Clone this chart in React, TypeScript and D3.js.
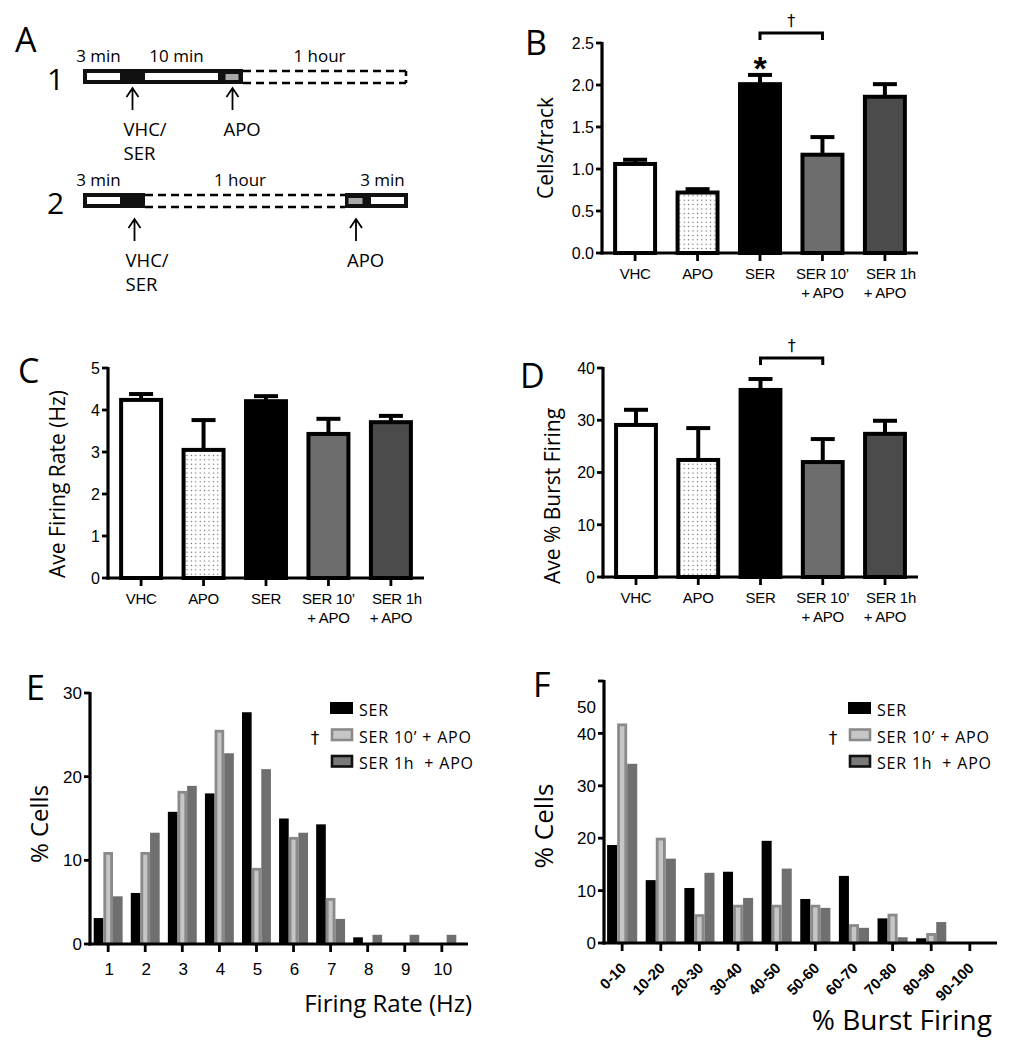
import React from 'react';
import * as d3 from 'd3';

// ---------- DATA ----------
const groups = ['VHC', 'APO', 'SER', 'SER 10’ + APO', 'SER 1h + APO'];
const groupLabelLines = [['VHC'], ['APO'], ['SER'], ['SER 10’', '+ APO'], ['SER 1h', '+ APO']];

const cellsPerTrackMean = [1.06, 0.72, 2.01, 1.17, 1.86];
const cellsPerTrackSem = [0.05, 0.04, 0.11, 0.21, 0.15];
const cellsTicks = [0, 0.5, 1.0, 1.5, 2.0, 2.5];

const firingRateMean = [4.24, 3.05, 4.21, 3.43, 3.71];
const firingRateSem = [0.14, 0.71, 0.12, 0.36, 0.15];
const firingTicks = [0, 1, 2, 3, 4, 5];

const burstMean = [29.1, 22.4, 35.8, 22.0, 27.4];
const burstSem = [2.9, 6.1, 2.1, 4.4, 2.5];
const burstTicks = [0, 10, 20, 30, 40];

const rateBins = ['1', '2', '3', '4', '5', '6', '7', '8', '9', '10'];
const rateSER = [3.1, 6.1, 15.8, 18.0, 27.7, 15.0, 14.3, 0.8, 0, 0];
const rateSER10 = [11.0, 11.0, 18.3, 25.6, 9.1, 12.8, 5.5, 0, 0, 0];
const rateSER1h = [5.7, 13.3, 18.9, 22.8, 20.9, 13.3, 3.0, 1.1, 1.1, 1.1];
const rateTicks = [0, 10, 20, 30];
const rateTickLabels = ['0', '10', '20', '30'];

const burstBins = ['0-10', '10-20', '20-30', '30-40', '40-50', '50-60', '60-70', '70-80', '80-90', '90-100'];
const burstSER = [18.7, 12.0, 10.5, 13.6, 19.5, 8.4, 12.8, 4.7, 0.9, 0];
const burstSER10 = [41.9, 20.1, 5.5, 7.3, 7.3, 7.3, 3.6, 5.6, 1.9, 0];
const burstSER1h = [34.2, 16.1, 13.4, 8.6, 14.2, 6.7, 2.9, 1.1, 4.0, 0];
const burstHistTicks = [0, 10, 20, 30, 40, 50];
const burstHistTickLabels = ['0', '10', '20', '30', '40', '50'];
// the original figure prints the "50" label lower than its tick
const burstHistLabelAt = [0, 10, 20, 30, 40, 45];

const legendNames = ['SER', 'SER 10’ + APO', 'SER 1h  + APO'];

// protocol schematic (drawn lengths, schematic units)
const protocol1Phases = [
  { kind: 'base', len: 41, label: '3 min' },
  { kind: 'drug', len: 17 },
  { kind: 'base', len: 81, label: '10 min' },
  { kind: 'apo', len: 21 },
  { kind: 'record', len: 163, label: '1 hour' },
];
const protocol2Phases = [
  { kind: 'base', len: 41, label: '3 min' },
  { kind: 'drug', len: 21 },
  { kind: 'record', len: 200, label: '1 hour' },
  { kind: 'apo', len: 22 },
  { kind: 'base', len: 41, label: '3 min' },
];
const injectionLabels: Record<string, string[]> = { drug: ['VHC/', 'SER'], apo: ['APO'] };

// ---------- STYLE ----------
const SANS = "'Open Sans', 'Noto Sans', sans-serif";
const ARIAL = "'Liberation Sans', Arial, Helvetica, sans-serif";
const DAGGER = "'DejaVu Sans', 'Liberation Sans', sans-serif";
const groupFills = ['#ffffff', 'url(#dots)', '#000000', '#6d6d6d', '#4b4b4b'];

function PanelA() {
  const rows = [
    { id: '1', phases: protocol1Phases, top: 69, arrowGap: 4 },
    { id: '2', phases: protocol2Phases, top: 193, arrowGap: 11 },
  ];
  const x = d3.scaleLinear().domain([0, 325]).range([83, 408]);
  const h = 15;
  return (
    <g>
      <text x={15} y={52} fontFamily={SANS} fontSize={34}>A</text>
      {rows.map((row) => {
        const ends = d3.cumsum(row.phases.map((p) => p.len));
        const items = row.phases.map((p, i) => ({ ...p, s: i === 0 ? 0 : ends[i - 1], e: ends[i] }));
        const bottom = row.top + h;
        const lastIdx = items.length - 1;
        return (
          <g key={row.id}>
            <text x={47} y={row.top + 21} fontFamily={SANS} fontSize={30}>{row.id}</text>
            {items.map((p, i) => {
              const x0 = x(p.s), x1 = x(p.e);
              const parts: any[] = [];
              if (p.kind === 'record') {
                parts.push(
                  <line key="t" x1={x0} x2={x1} y1={row.top + 2} y2={row.top + 2} stroke="#000" strokeWidth={2.6} strokeDasharray="8 5" />,
                  <line key="b" x1={x0} x2={x1} y1={bottom - 1} y2={bottom - 1} stroke="#000" strokeWidth={2.6} strokeDasharray="8 5" />
                );
                if (i === lastIdx) parts.push(<line key="r" x1={x1} x2={x1} y1={row.top + 2} y2={bottom - 1} stroke="#000" strokeWidth={2.6} strokeDasharray="5 4" />);
              } else {
                parts.push(<rect key="o" x={x0} y={row.top} width={x1 - x0} height={h} fill="#111" />);
                if (p.kind === 'base') parts.push(<rect key="w" x={x0 + 4} y={row.top + 4} width={x1 - x0 - 8} height={7} fill="#fff" />);
                if (p.kind === 'apo') parts.push(<rect key="g" x={x0 + 3.5} y={row.top + 5} width={x1 - x0 - 8} height={6} fill="#a9a9a9" />);
              }
              if (p.label) {
                parts.push(
                  <text key="l" x={(x0 + x1) / 2 - 5} y={row.top - 7} textAnchor="middle" fontFamily={SANS} fontSize={17}>{p.label}</text>
                );
              }
              if (injectionLabels[p.kind]) {
                const cx = (x0 + x1) / 2;
                const a0 = bottom + row.arrowGap;
                const a1 = a0 + 22;
                parts.push(
                  <path key="a" d={`M${cx},${a1} L${cx},${a0} M${cx - 6},${a0 + 9} L${cx},${a0} L${cx + 6},${a0 + 9}`} fill="none" stroke="#000" strokeWidth={1.8} />
                );
                injectionLabels[p.kind].forEach((t, k) => {
                  parts.push(
                    <text key={'il' + k} x={cx - 9} y={a1 + 26 + k * 24} fontFamily={SANS} fontSize={18.5}>{t}</text>
                  );
                });
              }
              return <g key={i}>{parts}</g>;
            })}
          </g>
        );
      })}
    </g>
  );
}

function BarPanel(props: any) {
  const { axisX, axisEnd, y0, yTop, yMax, ticks, fmt, means, sems, yLabel, yLabelX, yLabelY, letter, letterX, letterY, star, bracket } = props;
  const x = d3.scaleBand().domain(groups).range([axisX, axisEnd]).paddingInner(0.36).paddingOuter(0.21);
  const y = d3.scaleLinear().domain([0, yMax]).range([y0, yTop]);
  const bw = x.bandwidth();
  const cx = (g: string) => (x(g) as number) + bw / 2;
  return (
    <g>
      <text x={letterX} y={letterY} fontFamily={SANS} fontSize={34}>{letter}</text>
      {groups.map((g, i) => {
        const top = y(means[i]);
        const et = y(means[i] + sems[i]);
        return (
          <g key={g}>
            <line x1={cx(g)} x2={cx(g)} y1={top} y2={et} stroke="#000" strokeWidth={4} />
            <line x1={cx(g) - 12} x2={cx(g) + 12} y1={et} y2={et} stroke="#000" strokeWidth={4} />
            <rect x={x(g)} y={top} width={bw} height={y0 - top} fill={groupFills[i]} stroke="#000" strokeWidth={4} />
          </g>
        );
      })}
      {/* axes */}
      <line x1={axisX} x2={axisX} y1={y0 + 1.5} y2={y(yMax) - 1} stroke="#000" strokeWidth={3.2} />
      <line x1={axisX - 1.5} x2={axisEnd} y1={y0} y2={y0} stroke="#000" strokeWidth={3.2} />
      {ticks.map((t: number) => (
        <g key={t}>
          <line x1={axisX - 6} x2={axisX} y1={y(t)} y2={y(t)} stroke="#000" strokeWidth={2.8} />
          <text x={axisX - 8} y={y(t)} dy="0.36em" textAnchor="end" fontFamily={ARIAL} fontSize={16}>{fmt(t)}</text>
        </g>
      ))}
      {groups.map((g, i) => (
        <g key={'xl' + g}>
          <line x1={cx(g)} x2={cx(g)} y1={y0} y2={y0 + 8} stroke="#000" strokeWidth={2.8} />
          {groupLabelLines[i].map((t, k) => (
            <text key={k} x={cx(g) + (i === 4 && k === 0 ? 6 : 0)} y={y0 + 26 + k * 19} textAnchor="middle" fontFamily={ARIAL} fontSize={15} letterSpacing={-0.3}>{t}</text>
          ))}
        </g>
      ))}
      <text transform={`translate(${yLabelX},${yLabelY}) rotate(-90)`} textAnchor="middle" fontFamily={SANS} fontSize={21}>{yLabel}</text>
      {star !== undefined && (
        <text x={cx(groups[star])} y={y(means[star] + sems[star]) + 5} textAnchor="middle" fontFamily={ARIAL} fontWeight="bold" fontSize={34}>*</text>
      )}
      {bracket && (() => {
        const xa = cx(groups[bracket[0]]);
        const xb = cx(groups[bracket[1]]);
        const by = y(yMax) - 10;
        return (
          <g>
            <path d={`M${xa},${by + 7} L${xa},${by} L${xb},${by} L${xb},${by + 7}`} fill="none" stroke="#000" strokeWidth={3} />
            <text x={(xa + xb) / 2} y={by - 7} textAnchor="middle" fontFamily={DAGGER} fill="#000" fontSize={16}>†</text>
          </g>
        );
      })()}
    </g>
  );
}

function HistPanel(props: any) {
  const { cats, series, axisX, axisEnd, bandEnd, y0, yTop, yMax, ticks, tickLabels, labelAt, rotate, xLabel, xLabelX, xLabelY, xLabelSize, yLabelX, yLabelY, yLabelSize, letter, letterX, letterY, legendX, po, pi } = props;
  const x0 = d3.scaleBand().domain(cats).range([axisX, bandEnd]).paddingInner(pi).paddingOuter(po);
  const x1 = d3.scaleBand().domain(['a', 'b', 'c']).range([0, x0.bandwidth()]);
  const y = d3.scaleLinear().domain([0, yMax]).range([y0, yTop]);
  const w = x1.bandwidth();
  const keys = ['a', 'b', 'c'];
  const legendRows = [702, 728.5, 755];
  return (
    <g>
      <text x={letterX} y={letterY} fontFamily={SANS} fontSize={34}>{letter}</text>
      {cats.map((c: string, i: number) => (
        <g key={c} transform={`translate(${x0(c)},0)`}>
          {series.map((s: number[], k: number) => {
            const v = s[i];
            if (v <= 0) return null;
            const top = y(v);
            const bx = x1(keys[k]) as number;
            if (k === 0) return <rect key={k} x={bx} y={top} width={w} height={y0 - top} fill="#000" />;
            if (k === 1) return <rect key={k} x={bx + 1.4} y={top + 1.4} width={w - 2.8} height={y0 - top - 1.4} fill="#c6c6c6" stroke="#8a8a8a" strokeWidth={2.8} />;
            return <rect key={k} x={bx} y={top} width={w} height={y0 - top} fill="#6f6f6f" />;
          })}
        </g>
      ))}
      <line x1={axisX} x2={axisX} y1={y0 + 1.5} y2={y(yMax) - 1} stroke="#000" strokeWidth={3.2} />
      <line x1={axisX - 1.5} x2={axisEnd} y1={y0} y2={y0} stroke="#000" strokeWidth={3.2} />
      {ticks.map((t: number, i: number) => (
        <g key={t}>
          <line x1={axisX - 6} x2={axisX} y1={y(t)} y2={y(t)} stroke="#000" strokeWidth={2.8} />
          <text x={axisX - 8} y={y(labelAt[i])} dy="0.36em" textAnchor="end" fontFamily={ARIAL} fontSize={17}>{tickLabels[i]}</text>
        </g>
      ))}
      {cats.map((c: string) => {
        const cx = (x0(c) as number) + x0.bandwidth() / 2;
        return (
          <g key={'t' + c}>
            <line x1={cx} x2={cx} y1={y0} y2={y0 + 8} stroke="#000" strokeWidth={2.8} />
            {rotate ? (
              <text transform={`translate(${cx + 5},${y0 + 26}) rotate(-45)`} textAnchor="end" fontFamily={ARIAL} fontWeight="bold" fontSize={15}>{c}</text>
            ) : (
              <text x={cx + 1} y={y0 + 31} textAnchor="middle" fontFamily={ARIAL} fontSize={17}>{c}</text>
            )}
          </g>
        );
      })}
      <text x={xLabelX} y={xLabelY} textAnchor="end" fontFamily={SANS} fontSize={xLabelSize}>{xLabel}</text>
      <text transform={`translate(${yLabelX},${yLabelY}) rotate(-90)`} textAnchor="middle" fontFamily={SANS} fontSize={yLabelSize}>{'% Cells'}</text>
      {/* legend */}
      {legendNames.map((n, k) => (
        <g key={n}>
          {k === 0 && <rect x={legendX} y={legendRows[k]} width={23} height={12} fill="#000" />}
          {k === 1 && <rect x={legendX + 2} y={legendRows[k] + 1} width={20} height={10.5} fill="#c6c6c6" stroke="#8a8a8a" strokeWidth={2.6} />}
          {k === 2 && <rect x={legendX + 2} y={legendRows[k] + 1} width={20} height={10.5} fill="#7a7a7a" stroke="#111" strokeWidth={2.6} />}
          <text x={legendX + 29} y={legendRows[k] + 14} fontFamily={SANS} fontSize={16} letterSpacing={0.8} style={{ whiteSpace: 'pre' }}>{n}</text>
        </g>
      ))}
      <text x={legendX - 15} y={legendRows[1] + 15} textAnchor="middle" fontFamily={DAGGER} fill="#000" fontSize={17}>†</text>
    </g>
  );
}

export default function App() {
  return (
    <svg width={1017} height={1050} style={{ position: 'absolute', left: 0, top: 0, background: '#fff' }}>
      <defs>
        <pattern id="dots" width="4.4" height="4.4" patternUnits="userSpaceOnUse">
          <rect width="4.4" height="4.4" fill="#fff" />
          <circle cx="2.2" cy="2.2" r="0.65" fill="#555" />
        </pattern>
      </defs>
      <rect width={1017} height={1050} fill="#fff" />
      <PanelA />
      <BarPanel
        letter="B" letterX={525} letterY={55}
        axisX={602} axisEnd={918} y0={253} yTop={43} yMax={2.5}
        ticks={cellsTicks} fmt={d3.format('.1f')}
        means={cellsPerTrackMean} sems={cellsPerTrackSem}
        yLabel="Cells/track" yLabelX={553} yLabelY={148}
        star={2} bracket={[2, 3]}
      />
      <BarPanel
        letter="C" letterX={18} letterY={383}
        axisX={108} axisEnd={424} y0={578} yTop={368} yMax={5}
        ticks={firingTicks} fmt={d3.format('d')}
        means={firingRateMean} sems={firingRateSem}
        yLabel="Ave Firing Rate (Hz)" yLabelX={65} yLabelY={484}
      />
      <BarPanel
        letter="D" letterX={520} letterY={388}
        axisX={603} axisEnd={918} y0={577} yTop={368} yMax={40}
        ticks={burstTicks} fmt={d3.format('d')}
        means={burstMean} sems={burstSem}
        yLabel="Ave % Burst Firing" yLabelX={560} yLabelY={496}
        bracket={[2, 3]}
      />
      <HistPanel
        letter="E" letterX={26} letterY={700}
        cats={rateBins} series={[rateSER, rateSER10, rateSER1h]}
        axisX={90} axisEnd={468} bandEnd={460} pi={0.22} po={0.1}
        y0={944} yTop={693} yMax={30}
        ticks={rateTicks} tickLabels={rateTickLabels} labelAt={rateTicks}
        rotate={false}
        xLabel="Firing Rate (Hz)" xLabelX={472} xLabelY={1012} xLabelSize={24}
        yLabelX={48} yLabelY={824} yLabelSize={24}
        legendX={330}
      />
      <HistPanel
        letter="F" letterX={533} letterY={697}
        cats={burstBins} series={[burstSER, burstSER10, burstSER1h]}
        axisX={604} axisEnd={997} bandEnd={988} pi={0.22} po={0.08}
        y0={943} yTop={681} yMax={50}
        ticks={burstHistTicks} tickLabels={burstHistTickLabels} labelAt={burstHistLabelAt}
        rotate={true}
        xLabel="% Burst Firing" xLabelX={992} xLabelY={1030} xLabelSize={28}
        yLabelX={553} yLabelY={826} yLabelSize={26}
        legendX={848}
      />
    </svg>
  );
}
